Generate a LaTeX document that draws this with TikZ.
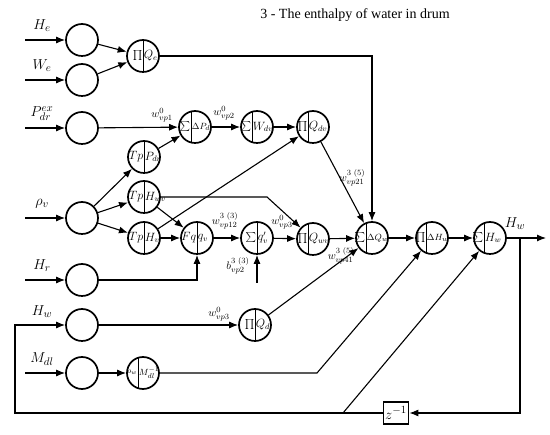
\documentclass[tikz,border=0pt]{standalone}
\usepackage{fontspec}
\setmainfont{Liberation Serif}
\usetikzlibrary{arrows.meta}

% circle with a vertical divider: name, x, y, divider shift, left text, right text
\newcommand\splitblk[6]{%
  \node[blk=#4] (#1) at (#2,#3) {};
  \node[lt, anchor=east] at ([xshift=#4-0.6pt]#1.center) {#5};
  \node[rt, anchor=west] at ([xshift=#4+0.6pt]#1.center) {#6};
}
\newcommand\smalltxt{\fontsize{9.5}{9.5}\selectfont}

\begin{document}
\begin{tikzpicture}[x=1pt, y=-1pt,
  font=\fontsize{15}{17}\selectfont,
  src/.style={circle, draw, line width=1.7pt, minimum size=32pt, inner sep=0pt},
  blk/.style={src, path picture={\draw[line width=1pt]
      ([xshift=#1]path picture bounding box.north) --
      ([xshift=#1]path picture bounding box.south);}},
  blk/.default=0pt,
  lt/.style={inner sep=0pt, font=\fontsize{13}{13}\selectfont},
  rt/.style={inner sep=0pt, font=\fontsize{12}{12}\selectfont},
  wlab/.style={font=\fontsize{11}{12}\selectfont, inner sep=0pt},
  delay/.style={draw, line width=1.7pt, minimum width=25pt, minimum height=22pt, inner sep=0pt},
  line/.style={-{Latex[length=9pt,width=7pt]}, line width=1.1pt},
]
\useasboundingbox (0,0) rectangle (550,435);

\node[font=\fontsize{14}{16}\selectfont] (title) at (355,15) {3 - The enthalpy of water in drum};

% inputs
\foreach \n/\y/\t in {He/40/H_e, We/80/W_e, Pdr/128/P^{ex}_{dr}, Rho/218/\rho_v,
                      Hr/280/H_r, Mdl/373/M_{dl}} {
  \node[src] (in\n) at (82,\y) {};
  \coordinate (s\n) at (25,\y);
  \draw[line] (s\n) -- (in\n);
  \node at (42,\y-14) {$\t$};
}
\node[src] (inHw) at (82,325) {};
\node at (42,312) {$H_w$};

% blocks
\splitblk{Qe}{143}{56}{0pt}{$\prod$}{$Q_e$}
\splitblk{dPd}{195}{127}{-4pt}{\smalltxt$\sum$}{\smalltxt$\Delta P_d$}
\splitblk{Wdv}{257}{127}{-5pt}{$\sum$}{$W_{dv}$}
\splitblk{Qdv}{313}{127}{-5pt}{$\prod$}{$Q_{dv}$}
\splitblk{TpPdr}{144}{157}{0pt}{$Tp$}{$P_{dr}$}
\splitblk{TpHwv}{144}{197}{0pt}{$Tp$}{$H_{wv}$}
\splitblk{TpHv}{144}{238}{0pt}{$Tp$}{$H_v$}
\splitblk{Fq}{197}{238}{0pt}{$Fq$}{$q_v$}
\splitblk{Sq}{257}{238}{0pt}{$\sum$}{$q'_v$}
\splitblk{Qwv}{313}{239}{-5pt}{$\prod$}{$Q_{wv}$}
\splitblk{dQw}{372}{238}{-6pt}{\smalltxt$\sum$}{\smalltxt$\Delta Q_w$}
\splitblk{dHw}{432}{238}{-6pt}{$\prod$}{\smalltxt$\Delta H_w$}
\splitblk{Hw}{490}{238}{-6pt}{$\sum$}{$H_w$}
\splitblk{Qd}{255}{325}{0pt}{$\prod$}{$Q_d$}
\splitblk{pwM}{143}{373}{-5pt}{\fontsize{8}{8}\selectfont$\rho_w$}{\smalltxt$M^{-1}_{dl}$}
\node[delay] (z) at (396,413) {$z^{-1}$};

% turning points
\coordinate (kHwv) at (267,197);
\coordinate (sb) at (257,283);
\coordinate (kM) at (317,373);
\coordinate (out) at (546,238);
\coordinate (kOut) at (520,238);
\coordinate (kL) at (15,413);
\coordinate (kB) at (343,413);

% connectors
\draw[line] (inHe) -- (Qe);
\draw[line] (inWe) -- (Qe);
\draw[line] (Qe.east) -| (dQw.north);
\draw[line] (inPdr) -- (dPd);
\draw[line] (TpPdr) -- (dPd);
\draw[line] (dPd) -- (Wdv);
\draw[line] (Wdv) -- (Qdv);
\draw[line] (TpHv) -- (Qdv);
\draw[line] (Qdv) -- (dQw);
\draw[line] (inRho) -- (TpPdr);
\draw[line] (inRho) -- (TpHwv);
\draw[line] (inRho) -- (TpHv);
\draw[line] (TpHwv) -- (Fq);
\draw[line] (TpHwv.east) -- (kHwv) -- (Qwv);
\draw[line] (TpHv) -- (Fq);
\draw[line] (inHr) -| (Fq.south);
\draw[line] (Fq) -- (Sq);
\draw[line] (sb) -- (Sq.south);
\draw[line] (Sq) -- (Qwv);
\draw[line] (Qwv) -- (dQw);
\draw[line] (Qd) -- (dQw);
\draw[line] (inHw) -- (Qd);
\draw[line] (inMdl) -- (pwM);
\draw[line] (pwM.east) -- (kM) -- (dHw);
\draw[line] (dQw) -- (dHw);
\draw[line] (dHw) -- (Hw);
\draw[line] (Hw) -- (out);
\draw[line] (kOut) |- (z.east);
\draw[line] (z.west) -- (kL) |- (inHw);
\draw[line] (kB) -- (Hw);

% weights
\node[wlab] at (162,115) {$w^{0}_{vp1}$};
\node[wlab] at (224,113) {$w^{0}_{vp2}$};
\node[wlab] at (352,178) {$w^{3\ (5)}_{vp21}$};
\node[wlab] at (225,221) {$w^{3\ (3)}_{vp12}$};
\node[wlab] at (282,222) {$w^{0}_{vp3}$};
\node[wlab] at (238,266) {$b^{3\ (3)}_{vp2}$};
\node[wlab] at (341,256) {$w^{3\ (5)}_{vp41}$};
\node[wlab] at (219,314) {$w^{0}_{vp3}$};
\node at (515,224) {$H_w$};
\end{tikzpicture}
\end{document}
